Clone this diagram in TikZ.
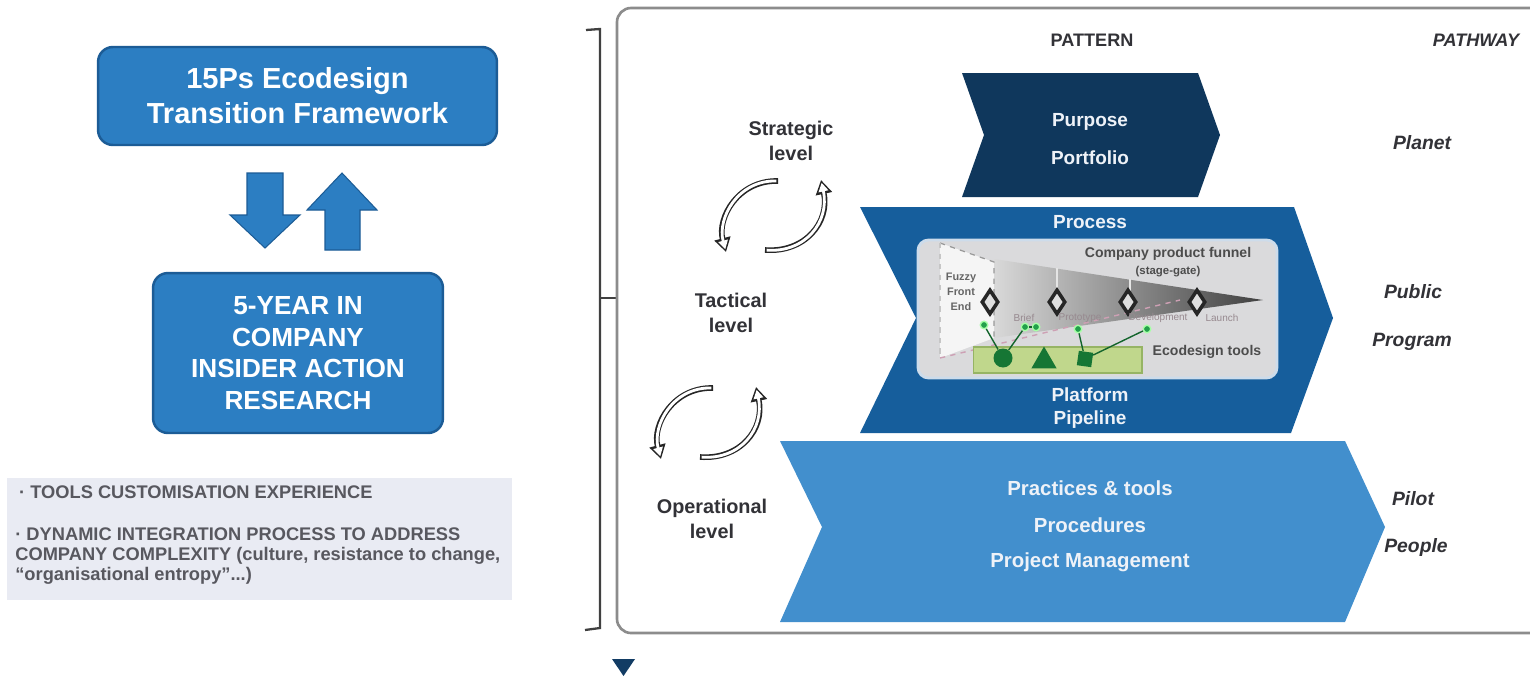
\documentclass[tikz,border=0pt]{standalone}
\usepackage{fontspec}
\setmainfont{Liberation Sans}
\usetikzlibrary{arrows.meta,shapes.geometric,calc}
\definecolor{boxblue}{RGB}{44,126,194}
\definecolor{boxedge}{RGB}{28,92,150}
\definecolor{chevA}{RGB}{15,55,92}
\definecolor{chevB}{RGB}{22,94,156}
\definecolor{chevC}{RGB}{66,143,205}
\definecolor{chevtext}{RGB}{238,242,248}
\definecolor{labelgray}{RGB}{50,50,55}
\definecolor{notegray}{RGB}{88,88,95}
\definecolor{notebg}{RGB}{233,235,243}
\definecolor{panelgray}{RGB}{140,140,140}
\definecolor{insetbg}{RGB}{218,218,220}
\definecolor{insetedge}{RGB}{205,220,235}
\definecolor{toolgreen}{RGB}{192,215,140}
\definecolor{tooledge}{RGB}{150,180,100}
\definecolor{darkgreen}{RGB}{22,118,52}
\definecolor{dotgreen}{RGB}{35,160,75}
\definecolor{navy}{RGB}{18,60,100}
\definecolor{pinkdash}{RGB}{205,160,180}
\newcommand{\fsz}[2]{\fontsize{#1}{#2}\selectfont}
\tikzset{
  bluebox/.style={draw=boxedge, line width=1.4pt, fill=boxblue, rounded corners=8.5pt,
    text=white, align=center, inner sep=0pt},
  blockarrow/.style={fill=boxblue, draw=boxedge, line width=0.6pt},
  levellabel/.style={font=\bfseries\fsz{11.3pt}{14.5pt}, text=labelgray, align=center},
  pathlabel/.style={font=\bfseries\itshape\fsz{11pt}{13pt}, text=labelgray},
  headlabel/.style={font=\bfseries\fsz{10.3pt}{12pt}, text=labelgray},
  chevlabel/.style={font=\bfseries\fsz{10.8pt}{12pt}, text=chevtext},
  chevlabelbig/.style={font=\bfseries\fsz{11.6pt}{13pt}, text=chevtext},
  gate/.style={diamond, draw=black!85, line width=2pt, fill=white!75!gray,
    minimum width=0.34cm, minimum height=0.5cm, inner sep=0pt},
  stagelabel/.style={font=\fsz{5.7pt}{7pt}, text=gray!70!pinkdash},
  funneltext/.style={font=\bfseries\fsz{8pt}{9pt}, text=black!70, align=center},
  gdot/.style={circle, fill=dotgreen, draw=green!35!white, line width=0.8pt,
    minimum size=0.15cm, inner sep=0pt},
  gline/.style={draw=darkgreen!85!black, line width=0.8pt},
  rotout/.style={draw=black!85, line width=3.2pt, -{Triangle[length=8pt,width=9pt]}},
  rotin/.style={draw=white, line width=1.6pt, shorten >=1.6pt, shorten <=0.9pt,
    -{Triangle[length=5pt,width=5.4pt]}},
  notetext/.style={font=\bfseries\fsz{10.4pt}{11.4pt}, text=notegray, align=left},
}
\newcommand{\rotpair}[2]{%
  \begin{scope}[shift={(#1,#2)}]
    \draw[rotout] (778,181) .. controls (738,180) and (717,218) .. (726,252);
    \draw[rotin]  (778,181) .. controls (738,180) and (717,218) .. (726,252);
    \draw[rotout] (765,250) .. controls (805,253) and (830,222) .. (821,180);
    \draw[rotin]  (765,250) .. controls (805,253) and (830,222) .. (821,180);
  \end{scope}}
\begin{document}
\begin{tikzpicture}[x=0.02cm, y=-0.02cm]
\useasboundingbox (0,0) rectangle (1530,676);
\fill[white] (0,0) rectangle (1530,676);

% ---------- left column ----------
\node[bluebox, minimum width=7.98cm, minimum height=1.96cm, font=\bfseries\fsz{16.5pt}{19.8pt}]
  (fw) at (297.5,96) {15Ps Ecodesign\\Transition Framework};
\node[bluebox, minimum width=5.8cm, minimum height=3.2cm, font=\bfseries\fsz{14.9pt}{17.9pt}]
  (ar) at (298,353) {5-YEAR IN\\COMPANY\\INSIDER ACTION\\RESEARCH};
\draw[blockarrow] (247,173) -- (283,173) -- (283,215) -- (300,215) -- (265,248) -- (230,215) -- (247,215) -- cycle;
\draw[blockarrow] (325,250) -- (360,250) -- (360,210) -- (377,210) -- (342,173) -- (307,210) -- (325,210) -- cycle;

\fill[notebg] (7,478) rectangle (512,600);
\node[notetext, anchor=west] (note1) at (13,492) {· TOOLS CUSTOMISATION EXPERIENCE};
\node[notetext, anchor=north west, inner sep=0pt] (note2) at (15,527)
  {· DYNAMIC INTEGRATION PROCESS TO ADDRESS\\COMPANY COMPLEXITY (culture, resistance to change,\\“organisational entropy”...)};

% bracket
\coordinate (brtop) at (600,29);
\coordinate (brbot) at (600,628);
\coordinate (brmid) at (600,298);
\draw[black!75, line width=1.3pt] ($(brtop)+(-14,1)$) -- (brtop) -- (brbot) -- ($(brbot)+(-15,2)$);
\draw[black!75, line width=1.3pt] (brmid) -- ++(16,0);

% ---------- right panel ----------
\draw[panelgray, line width=1.5pt, rounded corners=8pt] (617,8) rectangle (1600,633);

\node[headlabel] (pattern) at (1092,40) {PATTERN};
\node[headlabel, font=\bfseries\itshape\fsz{10.3pt}{12pt}] (pathway) at (1476,40) {PATHWAY};

% chevrons
\fill[chevA] (962,73) -- (1198,73) -- (1220,135) -- (1198,197) -- (962,197) -- (984,135) -- cycle;
\fill[chevB] (860,207) -- (1294,207) -- (1333,318) -- (1291,433) -- (860,433) -- (916,318) -- cycle;
\fill[chevC] (780,441) -- (1345,441) -- (1385,527) -- (1345,622) -- (780,622) -- (822,527) -- cycle;

\node[chevlabel] (purpose) at (1090,122) {Purpose};
\node[chevlabel] (portfolio) at (1090,158) {Portfolio};
\node[chevlabel] (process) at (1090,222) {Process};
\node[chevlabel] (platform) at (1090,395) {Platform};
\node[chevlabel] (pipeline) at (1090,420) {Pipeline};
\node[chevlabelbig] (practices) at (1090,488) {Practices \& tools};
\node[chevlabelbig] (procedures) at (1090,525) {Procedures};
\node[chevlabelbig] (pm) at (1090,562) {Project Management};

% funnel inset
\draw[fill=insetbg, draw=insetedge, line width=1.6pt, rounded corners=6pt] (918,240) rectangle (1277,378);
\fill[white!92!gray] (940,243) -- (994,262) -- (994,338) -- (940,358) -- cycle;
\shade[left color=gray!30, right color=black!75] (994,259) -- (1263,300) -- (994,338) -- cycle;
\draw[white!80!gray, line width=0.6pt] (1057,268) -- (1057,300) (1130,279) -- (1130,300);
\draw[gray!80, dashed, line width=0.7pt] (940,243) -- (994,262) -- (994,338);
\draw[gray!45, dashed, line width=0.6pt] (940,243) -- (940,358);
\draw[pinkdash, dashed, line width=0.8pt] (940,358) -- (1180,300);

\node[funneltext] (cpf) at (1168,254) {Company product funnel};
\node[funneltext, font=\bfseries\fsz{6.5pt}{7.5pt}] (sg) at (1168,272) {(stage-gate)};
\node[funneltext, font=\bfseries\fsz{6.2pt}{8.4pt}, text=black!60] (ffe) at (961,292) {Fuzzy\\Front\\End};

\node[gate] (g1) at (990,302) {};
\node[gate] (g2) at (1057,302) {};
\node[gate] (g3) at (1128,302) {};
\node[gate] (g4) at (1197,302) {};

\node[stagelabel] (s1) at (1024,318) {Brief};
\node[stagelabel] (s2) at (1080,318) {Prototype};
\node[stagelabel] (s3) at (1158,318) {Development};
\node[stagelabel] (s4) at (1222,318) {Launch};

\node[fill=toolgreen, draw=tooledge, line width=0.6pt, minimum width=3.38cm, minimum height=0.52cm, inner sep=0pt] (toolbox) at (1057.5,360) {};
\node[circle, fill=darkgreen, minimum size=0.38cm, inner sep=0pt] (tc) at (1003,358) {};
\node[regular polygon, regular polygon sides=3, fill=darkgreen, minimum size=0.58cm, inner sep=0pt] (tt) at (1044,361) {};
\node[fill=darkgreen, minimum size=0.29cm, inner sep=0pt, rotate=-8] (ts) at (1085,359) {};
\node[funneltext] (eco) at (1207,352) {Ecodesign tools};

\node[gdot] (d1) at (984,325) {};
\node[gdot] (d2) at (1025,327) {};
\node[gdot] (d3) at (1036,327) {};
\node[gdot] (d4) at (1078,329) {};
\node[gdot] (d5) at (1147,329) {};
\draw[gline] (d1) -- (tc);
\draw[gline] (tc) -- (d2);
\draw[gline] (d2) -- (d3);
\draw[gline] (d4) -- (ts);
\draw[gline] (ts) -- (d5);

% level labels
\node[levellabel] (strat) at (791,141) {Strategic\\level};
\node[levellabel] (tact) at (731,313) {Tactical\\level};
\node[levellabel] (oper) at (712,519) {Operational\\level};

\rotpair{0}{0}
\rotpair{-65}{207}

% pathway labels
\node[pathlabel] (planet) at (1422,143) {Planet};
\node[pathlabel] (public) at (1413,292) {Public};
\node[pathlabel] (program) at (1412,342) {Program};
\node[pathlabel] (pilot) at (1413,499) {Pilot};
\node[pathlabel] (people) at (1416,547) {People};

% bottom marker
\fill[navy] (612,659) -- (635,659) -- (623.5,676) -- cycle;
\end{tikzpicture}
\end{document}
